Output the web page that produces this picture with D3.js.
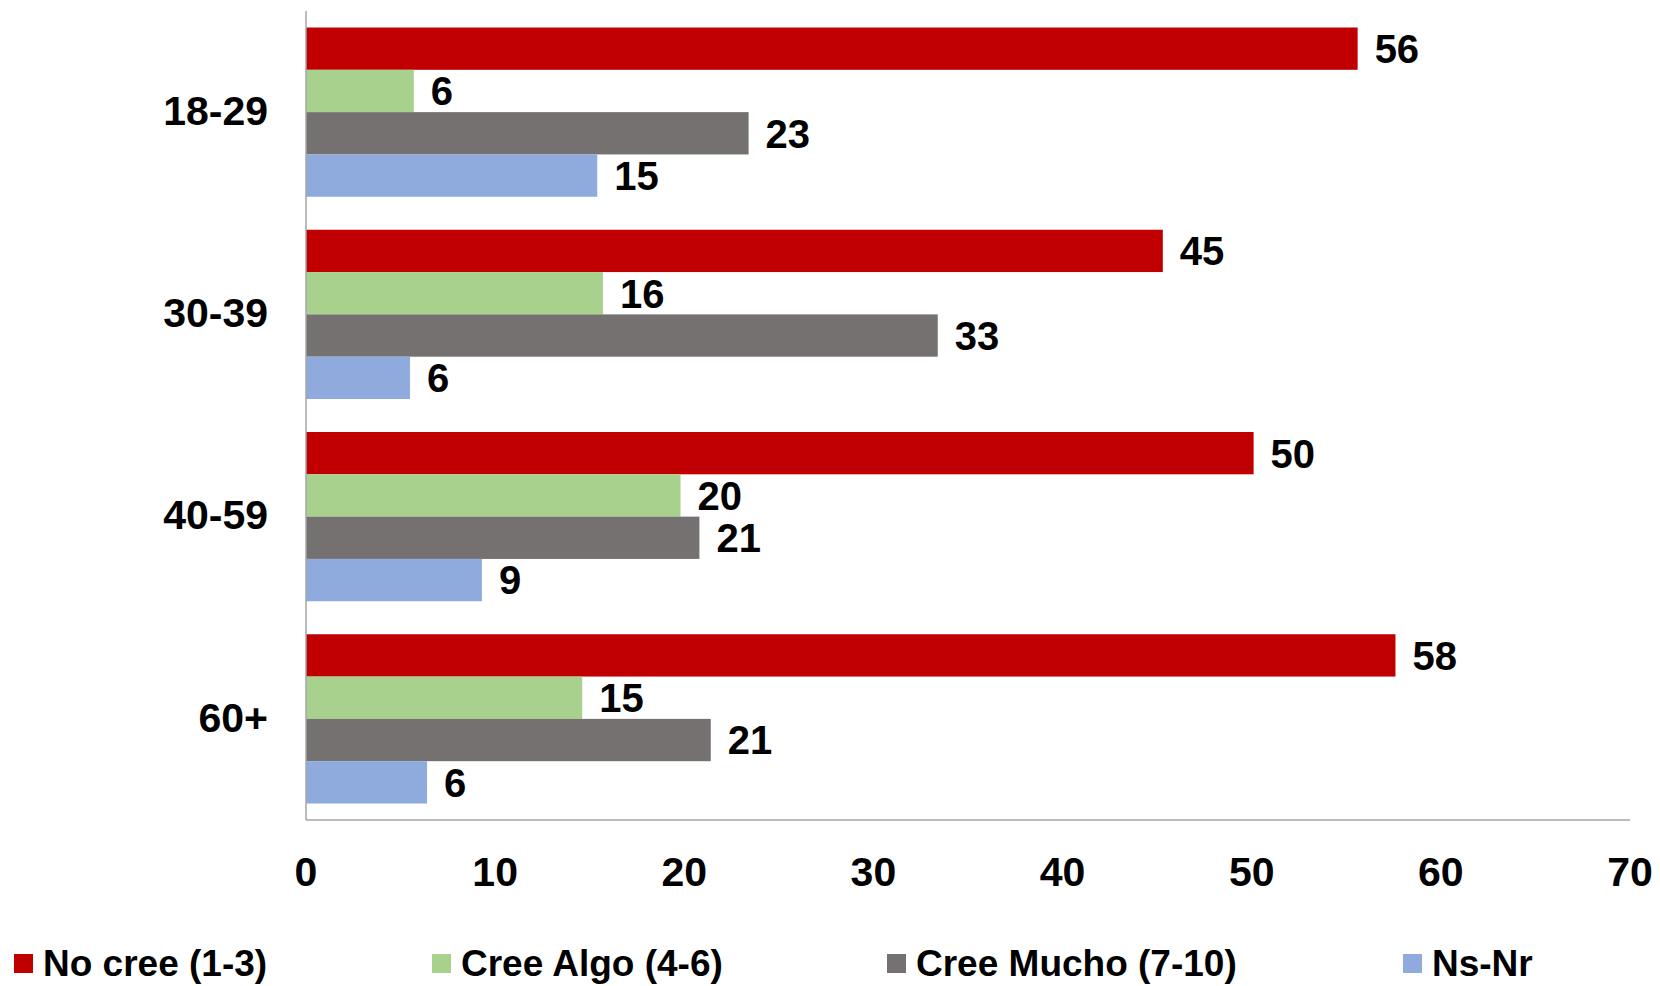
<!DOCTYPE html>
<html>
<head>
<meta charset="utf-8">
<script src="https://cdn.jsdelivr.net/npm/d3@7"></script>
<style>
  body { margin: 0; background: #fff; }
  text { font-family: "Liberation Sans", Arial, sans-serif; font-weight: bold; fill: #000; }
</style>
</head>
<body>
<div id="chart"></div>
<script>
// data (percentages, labels shown rounded)
var categories = ["18-29", "30-39", "40-59", "60+"];
var seriesNames = ["No cree (1-3)", "Cree Algo (4-6)", "Cree Mucho (7-10)", "Ns-Nr"];
var seriesColors = ["#c00000", "#a9d18e", "#767171", "#8faadc"];
var noCree = [55.6, 45.3, 50.1, 57.6];
var creeAlgo = [5.7, 15.7, 19.8, 14.6];
var creeMucho = [23.4, 33.4, 20.8, 21.4];
var nsNr = [15.4, 5.5, 9.3, 6.4];
var xTicks = [0, 10, 20, 30, 40, 50, 60, 70];

var allSeries = [noCree, creeAlgo, creeMucho, nsNr];

var width = 1660, height = 986;
var plotLeft = 306, plotRight = 1630, plotTop = 11, plotBottom = 820;

var svg = d3.select("#chart").append("svg")
  .attr("width", width)
  .attr("height", height);

var x = d3.scaleLinear().domain([0, 70]).range([plotLeft, plotRight]);

var y0 = d3.scaleBand().domain(categories).range([plotTop, plotBottom]).padding(0);

var y1 = d3.scaleBand().domain(d3.range(seriesNames.length))
  .range([0, y0.bandwidth()])
  .paddingInner(0)
  .paddingOuter(0.39);

var fmt = d3.format(".0f");

// bars
var groups = svg.append("g").selectAll("g")
  .data(categories)
  .enter().append("g")
  .attr("transform", function(d) { return "translate(0," + y0(d) + ")"; });

groups.selectAll("rect")
  .data(function(d, i) { return allSeries.map(function(s, j) { return { s: j, v: s[i] }; }); })
  .enter().append("rect")
  .attr("x", x(0))
  .attr("y", function(d) { return y1(d.s); })
  .attr("width", function(d) { return x(d.v) - x(0); })
  .attr("height", y1.bandwidth())
  .attr("fill", function(d) { return seriesColors[d.s]; });

groups.selectAll("text.val")
  .data(function(d, i) { return allSeries.map(function(s, j) { return { s: j, v: s[i] }; }); })
  .enter().append("text")
  .attr("class", "val")
  .attr("x", function(d) { return x(d.v) + 17; })
  .attr("y", function(d) { return y1(d.s) + y1.bandwidth() / 2; })
  .attr("dy", "0.36em")
  .style("font-size", "40px")
  .text(function(d) { return fmt(d.v); });

// axes lines
svg.append("line")
  .attr("x1", x(0)).attr("x2", x(0))
  .attr("y1", plotTop).attr("y2", plotBottom)
  .attr("stroke", "#a6a6a6").attr("stroke-width", 1.5);

svg.append("line")
  .attr("x1", x(0)).attr("x2", plotRight)
  .attr("y1", plotBottom).attr("y2", plotBottom)
  .attr("stroke", "#a6a6a6").attr("stroke-width", 1.5);

// x tick labels
svg.append("g").selectAll("text")
  .data(xTicks)
  .enter().append("text")
  .attr("x", function(d) { return x(d); })
  .attr("y", 871)
  .attr("dy", "0.36em")
  .attr("text-anchor", "middle")
  .style("font-size", "41px")
  .text(function(d) { return d; });

// category labels
svg.append("g").selectAll("text")
  .data(categories)
  .enter().append("text")
  .attr("x", 268)
  .attr("y", function(d) { return y0(d) + y0.bandwidth() / 2 - 2; })
  .attr("dy", "0.36em")
  .attr("text-anchor", "end")
  .style("font-size", "41px")
  .text(function(d) { return d; });

// legend
var legendX = [14, 432, 887, 1403];
var legend = svg.append("g").selectAll("g")
  .data(seriesNames)
  .enter().append("g")
  .attr("transform", function(d, i) { return "translate(" + legendX[i] + ",963)"; });

legend.append("rect")
  .attr("x", 0).attr("y", -9)
  .attr("width", 19).attr("height", 19)
  .attr("fill", function(d, i) { return seriesColors[i]; });

legend.append("text")
  .attr("x", 29)
  .attr("y", 0)
  .attr("dy", "0.36em")
  .style("font-size", "37px")
  .text(function(d) { return d; });
</script>
</body>
</html>
